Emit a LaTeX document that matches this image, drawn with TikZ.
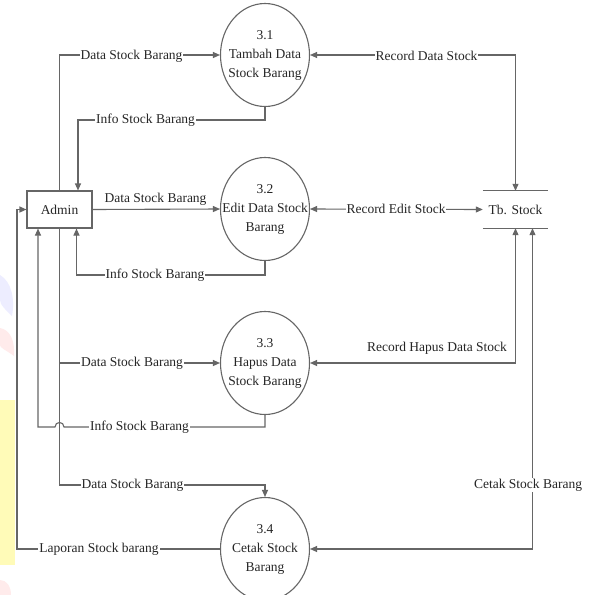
\documentclass[tikz,border=0pt]{standalone}
\usepackage{fontspec}
\setmainfont{Liberation Serif}
\usetikzlibrary{arrows.meta,shapes.geometric}
\begin{document}
\begin{tikzpicture}[x=1pt,y=-1pt,
  every node/.style={font=\fontsize{13.5}{19}\selectfont, text=black!85},
  line/.style={draw=black!60, line width=1.1pt},
  tip/.tip={Triangle[length=7pt,width=6pt]},
  flow/.style={line, -tip},
  bothflow/.style={line, tip-tip},
  proc/.style={ellipse, draw=black!60, line width=1.1pt, minimum width=89pt,
    minimum height=103pt, inner sep=0pt},
  ext/.style={rectangle, draw=black!60, line width=1.1pt, minimum width=65pt,
    minimum height=37pt, inner sep=0pt},
  datastore/.style={minimum width=65pt, minimum height=37pt, inner sep=0pt},
  lbl/.style={fill=white, inner sep=1pt},
  plain/.style={inner sep=1pt},
]
\newcommand{\proctext}[3]{\makebox[0pt]{\begin{tabular}{@{}c@{}}#1\\#2\\#3\end{tabular}}}
\useasboundingbox (0,0) rectangle (595,595);
\clip (0,0) rectangle (595,595);
\fill[white] (0,0) rectangle (595,595);

% faint logo watermark along the left edge
\fill[blue!7] (0,275) .. controls (12,282) and (15,300) .. (12,316) .. controls (6,310) and (0,305) .. (0,300) -- cycle;
\fill[red!8] (0,328) .. controls (10,330) and (15,340) .. (14,356) .. controls (6,350) and (0,348) .. (0,345) -- cycle;
\fill[yellow!28] (0,400) rectangle (15,565);
\fill[red!8] (0,580) .. controls (7,580) and (11,587) .. (11,595) -- (0,595) -- cycle;

% entities, processes and data store
\node[ext] (admin) at (59.5,209.5) {Admin};
\node[proc] (p1) at (265,55) {\proctext{3.1}{Tambah Data}{Stock Barang}};
\node[proc] (p2) at (265,209) {\proctext{3.2}{Edit Data Stock}{Barang}};
\node[proc] (p3) at (265,363) {\proctext{3.3}{Hapus Data}{Stock Barang}};
\node[proc] (p4) at (265,549) {\proctext{3.4}{Cetak Stock}{Barang}};
\node[datastore] (st) at (515.5,209.5) {Tb. Stock};
\draw[line] (st.north west) -- (st.north east);
\draw[line] (st.south west) -- (st.south east);

% flows between Admin and the processes
\coordinate (j4) at (265,485);
\coordinate (lap) at (17,549);
\draw[flow] (admin.north) |- (p1.west);
\draw[flow] (p1.south) -- (p1.south |- 0,120) -| ([xshift=18.5pt]admin.north);
\draw[flow] (admin.east) -- (p2.west);
\draw[flow] (p2.south) -- (p2.south |- 0,275) -| ([xshift=17pt]admin.south);
\draw[flow] (admin.south) |- (p3.west);
\draw[flow] (admin.south) |- (j4) -- (p4.north);
\draw[flow] (p3.south) -- (p3.south |- 0,427) -- (64,427)
  .. controls (64,421) and (55,421) .. (55,427) -- (38,427)
  -- ([xshift=-21.5pt]admin.south);
\draw[flow] (p4.west) -- (lap) |- (admin.west);

% flows between the processes and Tb. Stock
\draw[bothflow] (p1.east) -| (st.north);
\draw[bothflow] (p2.east) -- (st.west);
\draw[bothflow] (st.south) |- (p3.east);
\draw[bothflow] ([xshift=17pt]st.south) |- (p4.east);

% flow labels
\node[lbl] (l1) at (131.5,56) {Data Stock Barang};
\node[lbl] (l2) at (145.5,120) {Info Stock Barang};
\node[plain] (l3) at (155.5,199) {Data Stock Barang};
\node[lbl] (l4) at (155,275) {Info Stock Barang};
\node[lbl] (l5) at (426.5,56) {Record Data Stock};
\node[lbl] (l6) at (396,209) {Record Edit Stock};
\node[lbl] (l7) at (132,363) {Data Stock Barang};
\node[plain] (l8) at (437,348) {Record Hapus Data Stock};
\node[lbl] (l9) at (139.5,427) {Info Stock Barang};
\node[lbl] (l10) at (132.5,485) {Data Stock Barang};
\node[lbl] (l11) at (99,549) {Laporan Stock barang};
\node[lbl] (l12) at (528,485) {Cetak Stock Barang};
\end{tikzpicture}
\end{document}
